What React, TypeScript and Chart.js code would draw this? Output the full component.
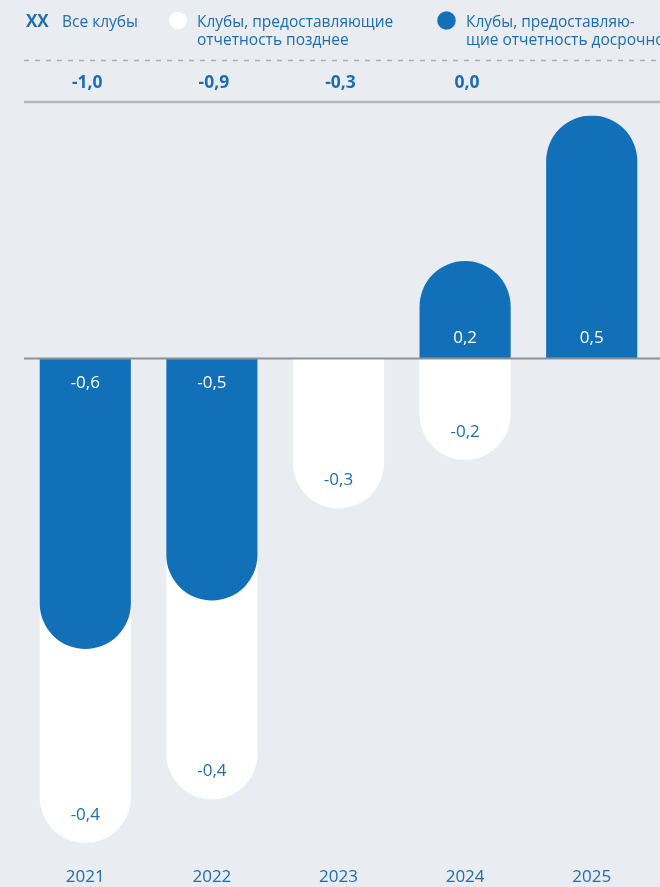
import React, { useEffect, useRef } from "react";
import { Chart, registerables } from "chart.js";

Chart.register(...registerables);

// ---- data ----
const years = ["2021", "2022", "2023", "2024", "2025"];
const earlyValues: (number | null)[] = [-0.6, -0.5, null, 0.2, 0.5]; // Клубы, предоставляющие отчетность досрочно
const lateValues: (number | null)[] = [-0.4, -0.41, -0.31, -0.21, null]; // Клубы, предоставляющие отчетность позднее
const totalValues: (number | null)[] = [-1.0, -0.9, -0.3, 0.0, null]; // Все клубы
const yMin = -1.0;
const yMax = 0.5;

const legendAll = ["XX", "Все клубы"];
const legendLate = ["Клубы, предоставляющие", "отчетность позднее"];
const legendEarly = ["Клубы, предоставляю-", "щие отчетность досрочно"];

const BLUE = "#1270b8";
const TEXT_BLUE = "#1b6db4";
const BG = "#e9edf1";
const FONT = "'Open Sans', 'Noto Sans', sans-serif";

const fmt = (v: number) => v.toFixed(1).replace(".", ",").replace("-0,0", "0,0");

// white bars are drawn from zero to the full negative stack, behind the blue bars
const lateExtent = lateValues.map((v, i) =>
  v == null ? null : v + Math.min(earlyValues[i] ?? 0, 0)
);

const decorPlugin = {
  id: "decor",
  beforeDraw(chart: any) {
    const { ctx, width, height } = chart;
    ctx.save();
    ctx.fillStyle = BG;
    ctx.fillRect(0, 0, width, height);
    ctx.restore();
  },
  afterDatasetsDraw(chart: any) {
    const { ctx } = chart;
    const xs = chart.scales.x;
    const ys = chart.scales.y;
    ctx.save();
    // bar value labels
    const metaEarly = chart.getDatasetMeta(0);
    const metaLate = chart.getDatasetMeta(1);
    ctx.font = `17px ${FONT}`;
    ctx.textAlign = "center";
    ctx.textBaseline = "middle";
    metaEarly.data.forEach((el: any, i: number) => {
      const v = earlyValues[i];
      if (v == null) return;
      ctx.fillStyle = "#ffffff";
      const y = v < 0 ? el.base + 25 : el.base - 20;
      ctx.fillText(fmt(v), el.x, y);
    });
    metaLate.data.forEach((el: any, i: number) => {
      const v = lateValues[i];
      if (v == null) return;
      ctx.fillStyle = TEXT_BLUE;
      ctx.fillText(fmt(v), el.x, el.y - 28);
    });
    // zero line
    const y0 = Math.round(ys.getPixelForValue(0)) + 0.5;
    ctx.strokeStyle = "#8f9294";
    ctx.lineWidth = 2;
    ctx.beginPath();
    ctx.moveTo(24, y0);
    ctx.lineTo(chart.width, y0);
    ctx.stroke();

    // legend
    ctx.textAlign = "left";
    ctx.textBaseline = "alphabetic";
    ctx.fillStyle = TEXT_BLUE;
    ctx.font = `bold 17px ${FONT}`;
    ctx.fillText(legendAll[0], 26, 26.5);
    ctx.font = `15.5px ${FONT}`;
    ctx.fillText(legendAll[1], 62, 26.5);

    ctx.beginPath();
    ctx.arc(178, 20.5, 8.8, 0, Math.PI * 2);
    ctx.fillStyle = "#ffffff";
    ctx.fill();
    ctx.fillStyle = TEXT_BLUE;
    ctx.fillText(legendLate[0], 197, 26.5);
    ctx.fillText(legendLate[1], 197, 45);

    ctx.beginPath();
    ctx.arc(446.5, 20.5, 9.3, 0, Math.PI * 2);
    ctx.fillStyle = BLUE;
    ctx.fill();
    ctx.fillStyle = TEXT_BLUE;
    ctx.fillText(legendEarly[0], 466, 26.5);
    ctx.fillText(legendEarly[1], 466, 45);

    // dashed separator
    ctx.strokeStyle = "#aab0b6";
    ctx.lineWidth = 1.5;
    ctx.setLineDash([5, 6]);
    ctx.beginPath();
    ctx.moveTo(24, 60.5);
    ctx.lineTo(chart.width, 60.5);
    ctx.stroke();
    ctx.setLineDash([]);

    // totals row
    ctx.font = `bold 17.5px ${FONT}`;
    ctx.textAlign = "center";
    ctx.fillStyle = TEXT_BLUE;
    totalValues.forEach((v, i) => {
      if (v == null) return;
      ctx.fillText(fmt(v), xs.getPixelForValue(i) + 2, 88);
    });

    // solid separator under totals
    ctx.strokeStyle = "#b3b8bd";
    ctx.lineWidth = 2.5;
    ctx.beginPath();
    ctx.moveTo(24, 102);
    ctx.lineTo(chart.width, 102);
    ctx.stroke();
    ctx.restore();
  },
};

export default function App() {
  const canvasRef = useRef<HTMLCanvasElement | null>(null);

  useEffect(() => {
    document.body.style.margin = "0";
    const canvas = canvasRef.current;
    if (!canvas) return;
    Chart.defaults.font.family = FONT;
    const chart = new Chart(canvas, {
      type: "bar",
      data: {
        labels: years,
        datasets: [
          {
            label: "Клубы, предоставляющие отчетность досрочно",
            data: earlyValues,
            backgroundColor: BLUE,
            borderRadius: 200,
            borderSkipped: "start",
            grouped: false,
            barPercentage: 0.72,
            categoryPercentage: 1,
          } as any,
          {
            label: "Клубы, предоставляющие отчетность позднее",
            data: lateExtent,
            backgroundColor: "#ffffff",
            borderRadius: 200,
            borderSkipped: "start",
            grouped: false,
            barPercentage: 0.72,
            categoryPercentage: 1,
          } as any,
        ],
      },
      options: {
        responsive: false,
        animation: false,
        devicePixelRatio: 1,
        layout: { padding: { top: 115.5, left: 22, right: 5, bottom: 0 } },
        plugins: {
          legend: { display: false },
          tooltip: { enabled: false },
          title: { display: false },
        },
        scales: {
          x: {
            grid: { display: false, drawTicks: false },
            border: { display: false },
            ticks: {
              color: TEXT_BLUE,
              font: { size: 17, family: FONT },
              padding: 24,
            },
            afterFit: (scale: any) => {
              scale.height = 44;
            },
          },
          y: {
            display: false,
            min: yMin,
            max: yMax,
          },
        },
      },
      plugins: [decorPlugin],
    });
    return () => chart.destroy();
  }, []);

  return (
    <div
      style={{
        position: "absolute",
        left: 0,
        top: 0,
        width: 660,
        height: 887,
        background: BG,
      }}
    >
      <canvas ref={canvasRef} width={660} height={887} style={{ display: "block" }} />
    </div>
  );
}
